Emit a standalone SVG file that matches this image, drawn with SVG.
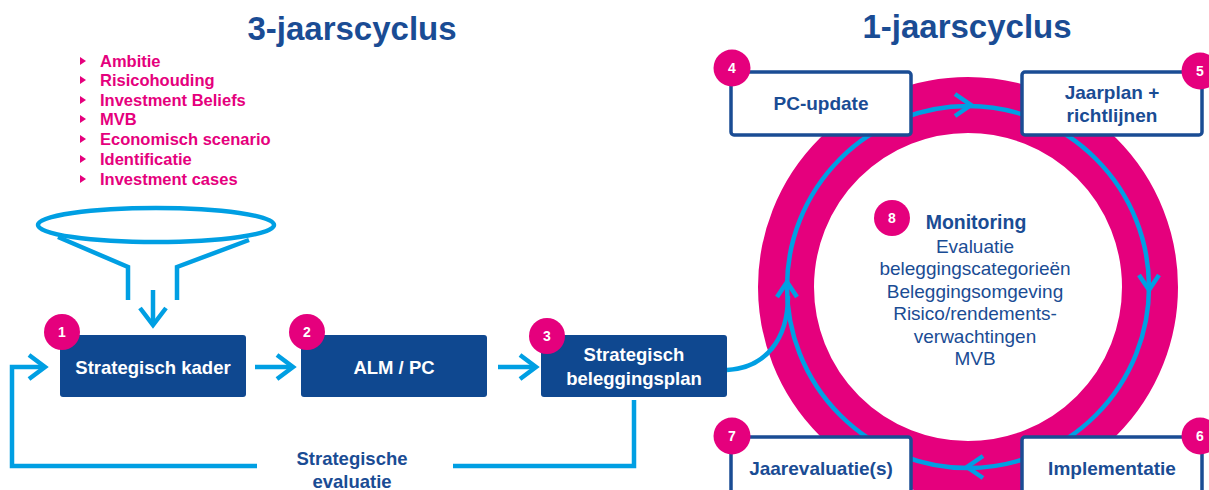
<svg xmlns="http://www.w3.org/2000/svg" width="1209" height="490" viewBox="0 0 1209 490">
<style>
.t{font-family:"Liberation Sans",Arial,sans-serif}
.title{font-size:33px;font-weight:bold;fill:#1A4C94}
.bul{font-size:16.5px;font-weight:bold;fill:#E5007D}
.wb{font-size:18.5px;font-weight:bold;fill:#fff}
.db{font-size:19px;font-weight:bold;fill:#1A4C94}
.mon{font-size:19px;fill:#1A4C94}
.bn{font-size:14px;font-weight:bold;fill:#fff}
.lb{fill:none;stroke:#009FE3;stroke-width:4.5;stroke-linecap:butt;stroke-linejoin:miter}
.dbox{fill:#0F4890;stroke:none}
.wbox{fill:#fff;stroke:#1A4C94;stroke-width:3.5}
.badge{fill:#E5007D}
</style>
<rect width="1209" height="490" fill="#fff"/>

<text class="t title" x="352" y="40" text-anchor="middle">3-jaarscyclus</text>
<text class="t title" x="967" y="38" text-anchor="middle">1-jaarscyclus</text>

<g id="bullets">
<g fill="#E5007D">
<polygon points="80,57 86,61 80,65"/>
<polygon points="80,76 86,80 80,84"/>
<polygon points="80,96 86,100 80,104"/>
<polygon points="80,115 86,119 80,123"/>
<polygon points="80,135 86,139 80,143"/>
<polygon points="80,155 86,159 80,163"/>
<polygon points="80,175 86,179 80,183"/>
</g>
<text class="t bul" x="100" y="67">Ambitie</text>
<text class="t bul" x="100" y="86">Risicohouding</text>
<text class="t bul" x="100" y="106">Investment Beliefs</text>
<text class="t bul" x="100" y="125">MVB</text>
<text class="t bul" x="100" y="145">Economisch scenario</text>
<text class="t bul" x="100" y="165">Identificatie</text>
<text class="t bul" x="100" y="185">Investment cases</text>
</g>

<g id="funnel" class="lb">
<ellipse cx="156" cy="225" rx="118" ry="17"/>
<polyline points="58,237 128,267 128,300"/>
<polyline points="249,240 177,267 177,300"/>
</g>

<g id="ring">
<circle cx="968" cy="287" r="182" fill="none" stroke="#E5007D" stroke-width="56"/>
<circle cx="968" cy="287" r="181" class="lb"/>
</g>

<g id="connectors" class="lb">
<line x1="153" y1="290" x2="153" y2="324"/>
<polyline points="140,308 153,325 166,308"/>
<line x1="255" y1="367" x2="292" y2="367"/>
<polyline points="277,355 293,367 277,379"/>
<line x1="498" y1="367" x2="535" y2="367"/>
<polyline points="520,355 536,367 520,379"/>
<polyline points="45,367 12,367 12,466 257,466"/>
<polyline points="29,355 45,367 29,379"/>
<polyline points="453,466 634,466 634,400"/>
<path d="M727,370 C765,368 788,340 788,296"/>
<polyline points="955,94 971,105 955,116"/>
<polyline points="1139,275 1149,290 1159,275"/>
<polyline points="983,456 967,467 983,478"/>
<polyline points="777,297 787,282 797,297"/>
</g>

<g id="node1">
<rect class="dbox" x="60" y="335" width="186" height="62" rx="3"/>
<text class="t wb" x="153" y="374" text-anchor="middle">Strategisch kader</text>
<circle class="badge" cx="62" cy="332" r="18"/>
<text class="t bn" x="62" y="337" text-anchor="middle">1</text>
</g>
<g id="node2">
<rect class="dbox" x="301" y="335" width="186" height="62" rx="3"/>
<text class="t wb" x="394" y="374" text-anchor="middle">ALM / PC</text>
<circle class="badge" cx="307" cy="332" r="18"/>
<text class="t bn" x="307" y="337" text-anchor="middle">2</text>
</g>
<g id="node3">
<rect class="dbox" x="541" y="335" width="186" height="62" rx="3"/>
<text class="t wb" x="634" y="361" text-anchor="middle">Strategisch</text>
<text class="t wb" x="634" y="385" text-anchor="middle">beleggingsplan</text>
<circle class="badge" cx="547" cy="336" r="18"/>
<text class="t bn" x="547" y="341" text-anchor="middle">3</text>
</g>

<g id="evaluatie">
<text class="t db" x="352" y="465" text-anchor="middle" style="font-size:18.5px">Strategische</text>
<text class="t db" x="352" y="488" text-anchor="middle" style="font-size:18.5px">evaluatie</text>
</g>

<g id="node4">
<rect class="wbox" x="731" y="72" width="180" height="63" rx="3"/>
<text class="t db" x="821" y="110" text-anchor="middle">PC-update</text>
<circle class="badge" cx="732" cy="68" r="18.5"/>
<text class="t bn" x="732" y="73" text-anchor="middle">4</text>
</g>
<g id="node5">
<rect class="wbox" x="1022" y="72" width="180" height="63" rx="3"/>
<text class="t db" x="1112" y="99" text-anchor="middle">Jaarplan +</text>
<text class="t db" x="1112" y="122" text-anchor="middle">richtlijnen</text>
<circle class="badge" cx="1200" cy="71" r="18.5"/>
<text class="t bn" x="1200" y="76" text-anchor="middle">5</text>
</g>
<g id="node6">
<rect class="wbox" x="1022" y="437" width="180" height="70" rx="3"/>
<text class="t db" x="1112" y="475" text-anchor="middle">Implementatie</text>
<circle class="badge" cx="1200" cy="436" r="18.5"/>
<text class="t bn" x="1200" y="441" text-anchor="middle">6</text>
</g>
<g id="node7">
<rect class="wbox" x="731" y="437" width="180" height="70" rx="3"/>
<text class="t db" x="821" y="475" text-anchor="middle">Jaarevaluatie(s)</text>
<circle class="badge" cx="732" cy="436" r="18.5"/>
<text class="t bn" x="732" y="441" text-anchor="middle">7</text>
</g>
<g id="node8">
<circle class="badge" cx="892" cy="218" r="18"/>
<text class="t bn" x="892" y="223" text-anchor="middle">8</text>
<text class="t db" x="976" y="229" text-anchor="middle" style="font-size:19.5px">Monitoring</text>
<text class="t mon" x="975" y="253" text-anchor="middle">Evaluatie</text>
<text class="t mon" x="975" y="275" text-anchor="middle">beleggingscategorieën</text>
<text class="t mon" x="975" y="298" text-anchor="middle">Beleggingsomgeving</text>
<text class="t mon" x="975" y="320" text-anchor="middle">Risico/rendements-</text>
<text class="t mon" x="975" y="343" text-anchor="middle">verwachtingen</text>
<text class="t mon" x="975" y="365" text-anchor="middle">MVB</text>
</g>
</svg>
